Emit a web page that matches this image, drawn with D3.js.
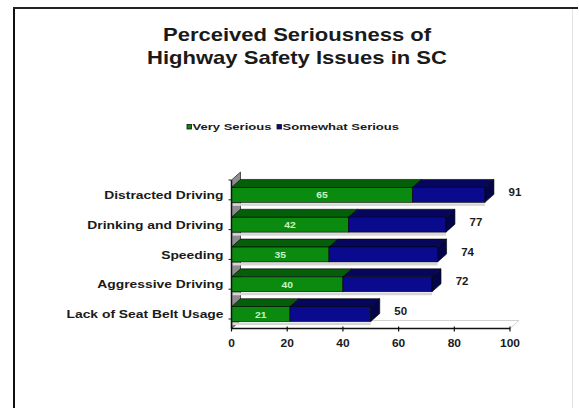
<!DOCTYPE html>
<html>
<head>
<meta charset="utf-8">
<script src="https://cdn.jsdelivr.net/npm/d3@7"></script>
<style>
  body { margin: 0; background: #fff; }
  text { font-family: Arial, "Liberation Sans", sans-serif; font-weight: bold; }
</style>
</head>
<body>
<div class="chart-container"></div>
<script>
const categories = [
  "Distracted Driving",
  "Drinking and Driving",
  "Speeding",
  "Aggressive Driving",
  "Lack of Seat Belt Usage",
];
const seriesNames = ["Very Serious", "Somewhat Serious"];
const verySerious = [65, 42, 35, 40, 21];
const somewhatSerious = [26, 35, 39, 32, 29];
const xTicks = [0, 20, 40, 60, 80, 100];
const titleLines = ["Perceived Seriousness of", "Highway Safety Issues in SC"];

// face colours: front, top, side
const COLORS = [
  { front: "#0b8a10", top: "#055e09", side: "#044a07" },
  { front: "#0a0a8e", top: "#06065c", side: "#040448" },
];

const W = 579, H = 408;
const dx = 9, dy = 8; // 3d depth

const svg = d3.select(".chart-container")
  .append("svg")
  .attr("width", W)
  .attr("height", H);

// text in the picture is a bit stretched sideways
function addText(g, x, y, str, size, sx, anchor, fill) {
  return g.append("text")
    .attr("transform", "translate(" + x + "," + y + ") scale(" + sx + ",1)")
    .attr("text-anchor", anchor || "start")
    .attr("font-size", size)
    .attr("fill", fill || "#1a1a1a")
    .text(str);
}

// frame
svg.append("line").attr("x1", 14).attr("x2", 14).attr("y1", 7).attr("y2", H)
  .attr("stroke", "#111").attr("stroke-width", 2);
svg.append("line").attr("x1", 13).attr("x2", 578).attr("y1", 8).attr("y2", 8)
  .attr("stroke", "#222").attr("stroke-width", 2);
svg.append("line").attr("x1", 572.5).attr("x2", 572.5).attr("y1", 9).attr("y2", H)
  .attr("stroke", "#e4e4e4").attr("stroke-width", 1);

// title
titleLines.forEach((t, i) => addText(svg, 297, 41 + i * 22.5, t, 19, 1.16, "middle"));

// legend
const legend = svg.append("g");
[187, 277].forEach((lx, i) => {
  legend.append("rect")
    .attr("x", lx).attr("y", 124.5).attr("width", 4.5).attr("height", 4.5)
    .attr("fill", COLORS[i].front).attr("stroke", "#111").attr("stroke-width", 0.8);
  addText(legend, lx + 5.5, 130.3, seriesNames[i], 9, 1.45, "start");
});

// scales
const x = d3.scaleLinear().domain([0, 100]).range([231.5, 510]);
const y = d3.scaleBand()
  .domain(categories)
  .range([180, 329])
  .paddingInner(0.5)
  .paddingOuter(0.25);
const bw = y.bandwidth();
const axisY = 328.5;
const wallTop = 180;

// floor
svg.append("polygon")
  .attr("points", [[x(0), axisY], [x(0) + dx, axisY - dy], [x(100) + dx, axisY - dy], [x(100), axisY]].join(" "))
  .attr("fill", "#fff").attr("stroke", "#c8c8c8").attr("stroke-width", 0.8);

// left wall
svg.append("polygon")
  .attr("points", [[x(0), axisY], [x(0), wallTop], [x(0) + dx, wallTop - dy], [x(0) + dx, axisY - dy]].join(" "))
  .attr("fill", "#8d8d8d").attr("stroke", "#333").attr("stroke-width", 0.8);

// category ticks on wall edge
d3.range(categories.length + 1).forEach((i) => {
  const ty = 180 + i * y.step() - (i === 0 ? 0 : 10);
  svg.append("line")
    .attr("x1", x(0) - 3).attr("x2", x(0)).attr("y1", ty).attr("y2", ty)
    .attr("stroke", "#222").attr("stroke-width", 1);
});

// bars
const rows = categories.map((c, i) => ({
  cat: c,
  segs: [
    { s: 0, v0: 0, v1: verySerious[i], val: verySerious[i] },
    { s: 1, v0: verySerious[i], v1: verySerious[i] + somewhatSerious[i], val: somewhatSerious[i] },
  ],
  total: verySerious[i] + somewhatSerious[i],
}));

const bars = svg.append("g").attr("class", "bars");

rows.forEach((row) => {
  const yb = y(row.cat);
  const g = bars.append("g");

  // faint shadow strip under the bar
  g.append("rect")
    .attr("x", x(0) + 1).attr("y", yb + bw + 1)
    .attr("width", x(row.total) - x(0) - 1).attr("height", 2.5)
    .attr("fill", "#d6d6d6");

  row.segs.forEach((d, k) => {
    const X0 = x(d.v0), X1 = x(d.v1);
    const col = COLORS[d.s];
    g.append("polygon")
      .attr("points", [[X0, yb], [X0 + dx, yb - dy], [X1 + dx, yb - dy], [X1, yb]].join(" "))
      .attr("fill", col.top).attr("stroke", "#000").attr("stroke-width", 0.6);
    g.append("rect")
      .attr("x", X0).attr("y", yb)
      .attr("width", X1 - X0).attr("height", bw)
      .attr("fill", col.front).attr("stroke", "#000").attr("stroke-width", 0.6);
    if (k === row.segs.length - 1) {
      g.append("polygon")
        .attr("points", [[X1, yb], [X1 + dx, yb - dy], [X1 + dx, yb + bw - dy], [X1, yb + bw]].join(" "))
        .attr("fill", col.side).attr("stroke", "#000").attr("stroke-width", 0.6);
    }
  });

  // very serious value inside green
  const vs = row.segs[0];
  addText(g, x((vs.v0 + vs.v1) / 2), yb + bw / 2 + 3.5, vs.val, 9, 1.15, "middle", "#c8f5c0");

  // total at bar end
  addText(g, x(row.total) + dx + 21, yb + bw / 2 + 1, row.total, 10, 1.15, "middle");

  // category label
  addText(svg, x(0) - 8, yb + bw / 2 + 4, row.cat, 11, 1.26, "end");
});

// wall front edge
svg.append("line")
  .attr("x1", x(0)).attr("x2", x(0)).attr("y1", wallTop).attr("y2", axisY)
  .attr("stroke", "#111").attr("stroke-width", 1.5);

// x axis
svg.append("line")
  .attr("x1", x(0)).attr("x2", x(100)).attr("y1", axisY).attr("y2", axisY)
  .attr("stroke", "#111").attr("stroke-width", 1.3);
xTicks.forEach((t) => {
  svg.append("line")
    .attr("x1", x(t)).attr("x2", x(t)).attr("y1", axisY - 2).attr("y2", axisY + 3)
    .attr("stroke", "#111").attr("stroke-width", 1.2);
  addText(svg, x(t), 346.5, t, 10, 1.2, "middle");
});
</script>
</body>
</html>
